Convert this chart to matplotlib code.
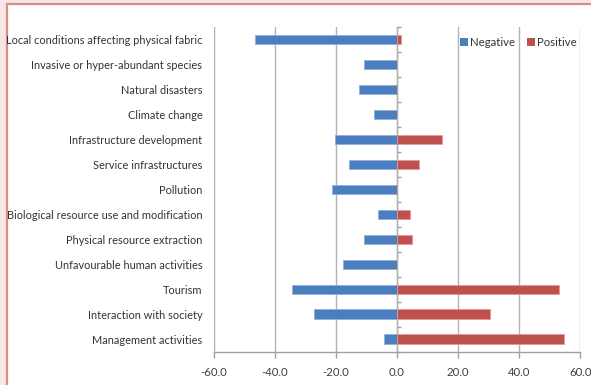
import matplotlib
matplotlib.use("Agg")
import matplotlib.pyplot as plt
from matplotlib.patches import Rectangle, Patch
import numpy as np

categories = [
    "Local conditions affecting physical fabric",
    "Invasive or hyper-abundant species",
    "Natural disasters",
    "Climate change",
    "Infrastructure development",
    "Service infrastructures",
    "Pollution",
    "Biological resource use and modification",
    "Physical resource extraction",
    "Unfavourable human activities",
    "Tourism",
    "Interaction with society",
    "Management activities",
]
negative = [-46.5, -10.6, -12.4, -7.6, -20.2, -15.8, -21.3, -6.3, -10.9, -17.6, -34.3, -27.2, -4.3]
positive = [1.3, 0, 0, 0, 14.7, 7.2, 0, 4.4, 5.1, 0, 53.0, 30.3, 54.8]
xticks = [-60, -40, -20, 0, 20, 40, 60]

plt.rcParams['font.family'] = ['Lato', 'DejaVu Sans']
fs = 7.9

W, H = 591, 385
fig = plt.figure(figsize=(W/100, H/100), dpi=100)
fig.patch.set_facecolor('#F6E7E4')
fig.patches.append(Rectangle((6.5/W, -0.5), 2.0, 1 - 3.5/H + 0.5, transform=fig.transFigure,
                             facecolor='white', edgecolor='#D98E88', linewidth=1.6, zorder=-5))

ax = fig.add_axes([213.5/W, 1 - 351.7/H, (580.3-213.5)/W, (351.7-27)/H])
ax.set_facecolor('none')
ax.set_zorder(2)

y = np.arange(len(categories))
h = 0.38
blue = '#4A7EBF'
red = '#C0504D'
ax.barh(y, negative, height=h, color=blue, edgecolor='#8FB0DA', linewidth=0.6, zorder=3, label='Negative')
ax.barh(y, positive, height=h, color=red, edgecolor='#E09A98', linewidth=0.6, zorder=3, label='Positive')

ax.set_xlim(-60, 60)
ax.set_ylim(len(categories) - 0.5, -0.5)
ax.set_xticks(xticks)
ax.set_xticklabels([f"{v:.1f}" for v in xticks], fontsize=fs + 0.3, color='#404040')
ax.set_yticks(y)
ax.set_yticklabels(categories, fontsize=fs, color='#333333')
ax.tick_params(axis='y', length=0, pad=8)
ax.tick_params(axis='x', length=4, color='#A0A0A0', width=1, pad=7)

for s in ['top', 'right', 'left']:
    ax.spines[s].set_visible(False)
ax.spines['bottom'].set_color('#A0A0A0')
ax.spines['bottom'].set_linewidth(1)

ax.xaxis.grid(True, color='#B3B3B3', linewidth=1, zorder=0)
ax.set_axisbelow(True)

sec = ax.secondary_yaxis(0.5)
sec.set_yticks(np.arange(-0.5, len(categories), 1.0))
sec.set_yticklabels([])
sec.tick_params(axis='y', length=3, color='#A0A0A0', width=1, direction='out')
sec.spines['left'].set_color('#A0A0A0')
sec.spines['left'].set_linewidth(1)

handles = [Patch(facecolor=blue, label='Negative'), Patch(facecolor=red, label='Positive')]
ax.legend(handles=handles, loc='upper right', bbox_to_anchor=(1.005, 0.985), ncol=2, frameon=False,
          fontsize=8.2, handlelength=0.7, handleheight=0.7, handletextpad=0.2, columnspacing=1.0,
          borderaxespad=0.05, labelcolor='#333333')

fig.savefig('out.png', dpi=100, facecolor=fig.get_facecolor())
